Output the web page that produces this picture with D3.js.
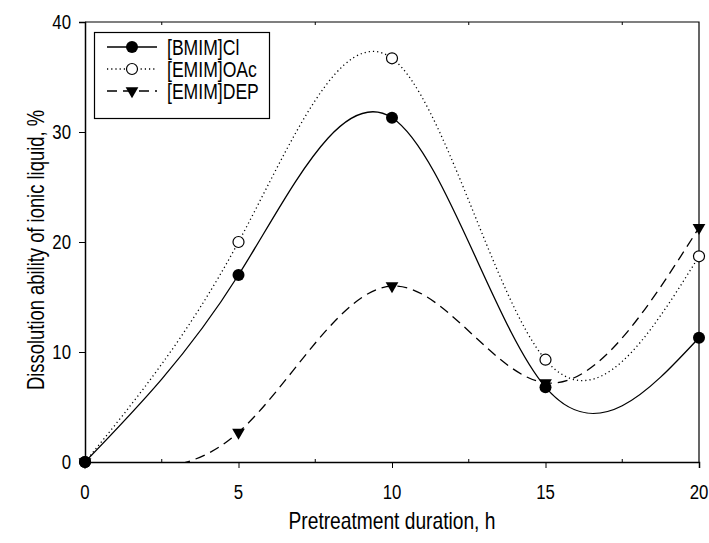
<!DOCTYPE html>
<html>
<head>
<meta charset="utf-8">
<script src="https://cdn.jsdelivr.net/npm/d3@7"></script>
<style>
  body { margin: 0; background: #fff; }
  svg text { font-family: "Liberation Sans", Arial, sans-serif; fill: #000; }
</style>
</head>
<body>
<div id="chart"></div>
<script>
// Dissolution ability vs pretreatment duration

const hours = [0, 5, 10, 15, 20];
const bmimCl = [0, 17, 31.3, 6.8, 11.3];
const emimOAc = [0, 20, 36.7, 9.3, 18.7];
const emimDEP = [0, 2.7, 16, 7.2, 21.3];
const xTicks = [0, 5, 10, 15, 20];
const yTicks = [0, 10, 20, 30, 40];
const seriesNames = ['[BMIM]Cl', '[EMIM]OAc', '[EMIM]DEP'];

// no narrow font installed, so squeeze the regular one
const narrow = 0.8;

function narrowText(g, x, y, size, anchor, label, rotate) {
    const t = g.append('g')
        .attr('transform', `translate(${x},${y})` + (rotate ? ` rotate(${rotate})` : '') + ` scale(${narrow},1)`);
    t.append('text')
        .attr('text-anchor', anchor)
        .attr('dy', '0.35em')
        .attr('font-size', size + 'px')
        .text(label);
    return t;
}

function drawChart() {
    const width = 709, height = 543;
    const margin = { left: 85, right: 10, top: 22, bottom: 81 };

    const svg = d3.select('#chart').append('svg')
        .attr('width', width)
        .attr('height', height);

    const x = d3.scaleLinear().domain([0, 20]).range([margin.left, width - margin.right]);
    const y = d3.scaleLinear().domain([0, 40]).range([height - margin.bottom, margin.top]);

    svg.append('clipPath').attr('id', 'plot-clip')
        .append('rect')
        .attr('x', x(0)).attr('y', y(40))
        .attr('width', x(20) - x(0)).attr('height', y(0) - y(40));

    // frame (top and right)
    svg.append('path')
        .attr('d', `M${x(0)},${y(40)}H${x(20)}V${y(0)}`)
        .attr('fill', 'none')
        .attr('stroke', '#000')
        .attr('stroke-width', 1.2);

    // x axis
    svg.append('g')
        .attr('transform', `translate(0,${y(0)})`)
        .call(d3.axisBottom(x).tickValues(xTicks).tickSize(6).tickFormat(''));
    xTicks.forEach(v => narrowText(svg, x(v), 492, 21, 'middle', String(v)));

    const minor = [2.5, 7.5, 12.5, 17.5];
    svg.append('g').selectAll('line')
        .data(minor)
        .join('line')
        .attr('x1', d => x(d)).attr('x2', d => x(d))
        .attr('y1', y(0)).attr('y2', y(0) - 3)
        .attr('stroke', '#000');
    svg.append('g').selectAll('line')
        .data(minor)
        .join('line')
        .attr('x1', d => x(d)).attr('x2', d => x(d))
        .attr('y1', y(40)).attr('y2', y(40) + 3)
        .attr('stroke', '#000');

    // y axis
    svg.append('g')
        .attr('transform', `translate(${x(0)},0)`)
        .call(d3.axisLeft(y).tickValues(yTicks).tickSize(6).tickFormat(''));
    yTicks.forEach(v => narrowText(svg, 71, y(v), 21, 'end', String(v)));

    svg.selectAll('.domain').attr('stroke-width', 1.5);

    // axis titles
    narrowText(svg, (x(0) + x(20)) / 2, 521, 24, 'middle', 'Pretreatment duration, h');
    narrowText(svg, 36, 250, 23, 'middle', 'Dissolution ability of ionic liquid, %', -90);

    const line = d3.line()
        .x(d => x(d[0]))
        .y(d => y(d[1]))
        .curve(d3.curveNatural);

    const series = [
        { name: seriesNames[0], values: bmimCl, dash: null, marker: 'dot' },
        { name: seriesNames[1], values: emimOAc, dash: '1.2,3', marker: 'ring' },
        { name: seriesNames[2], values: emimDEP, dash: '10,6', marker: 'tri' }
    ];

    const plot = svg.append('g').attr('clip-path', 'url(#plot-clip)');
    series.forEach(s => {
        plot.append('path')
            .datum(hours.map((h, i) => [h, s.values[i]]))
            .attr('d', line)
            .attr('fill', 'none')
            .attr('stroke', '#000')
            .attr('stroke-width', 1.3)
            .attr('stroke-dasharray', s.dash);
    });

    const triangle = d3.symbol().type(d3.symbolTriangle).size(70);

    function drawMarker(g, type, cx, cy) {
        if (type === 'dot') {
            g.append('circle').attr('cx', cx).attr('cy', cy).attr('r', 6).attr('fill', '#000');
        } else if (type === 'ring') {
            g.append('circle').attr('cx', cx).attr('cy', cy).attr('r', 5.5)
                .attr('fill', '#fff').attr('stroke', '#000').attr('stroke-width', 1.2);
        } else {
            g.append('path').attr('d', triangle)
                .attr('transform', `translate(${cx},${cy}) rotate(180)`)
                .attr('fill', '#000');
        }
    }

    // DEP first, BMIM last so it covers the origin
    const markers = svg.append('g');
    [series[2], series[1], series[0]].forEach(s => {
        hours.forEach((h, i) => drawMarker(markers, s.marker, x(h), y(s.values[i])));
    });

    // legend
    const legend = svg.append('g');
    legend.append('rect')
        .attr('x', 94.5).attr('y', 32.5)
        .attr('width', 175).attr('height', 86)
        .attr('fill', '#fff')
        .attr('stroke', '#000')
        .attr('stroke-width', 1.2);

    series.forEach((s, i) => {
        const ly = 47 + i * 22;
        legend.append('line')
            .attr('x1', 107).attr('x2', 157)
            .attr('y1', ly).attr('y2', ly)
            .attr('stroke', '#000')
            .attr('stroke-width', 1.3)
            .attr('stroke-dasharray', s.dash);
        drawMarker(legend, s.marker, 132, ly);
        narrowText(legend, 167, ly, 22, 'start', s.name);
    });
}

drawChart();
</script>
</body>
</html>
